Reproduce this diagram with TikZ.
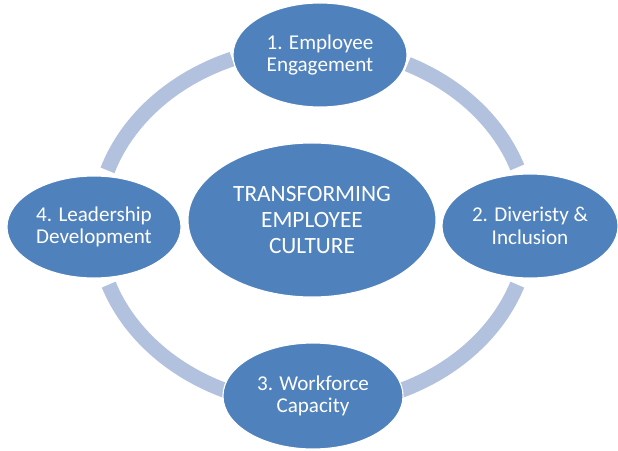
\documentclass[tikz,border=0pt]{standalone}
\usepackage{fontspec}
\setmainfont{Carlito}
\usetikzlibrary{shapes.geometric}

\definecolor{stageblue}{HTML}{4F81BD}
\definecolor{ringblue}{HTML}{B2C2DE}

\tikzset{
  stage/.style={shape=ellipse,fill=stageblue,draw=white,line width=0.8pt,
    text=white,align=center,inner sep=0pt,
    font=\fontsize{15}{16}\selectfont},
  ring/.style={draw=ringblue,line width=0.375cm}
}

\begin{document}
\begin{tikzpicture}[x=0.025cm,y=0.025cm]
            \useasboundingbox (0,0) rectangle (618,450);

            \coordinate (c) at (313,224);

            %the ring pieces between the stages
            \draw[ring] ([shift={(19:5.4cm and 4.5cm)}]c) arc[start angle=19,end angle=64,x radius=5.4cm,y radius=4.5cm];
            \draw[ring] ([shift={(-19:5.4cm and 4.5cm)}]c) arc[start angle=-19,end angle=-66,x radius=5.4cm,y radius=4.5cm];
            \draw[ring] ([shift={(199:5.4cm and 4.5cm)}]c) arc[start angle=199,end angle=246,x radius=5.4cm,y radius=4.5cm];
            \draw[ring] ([shift={(162:5.4cm and 4.5cm)}]c) arc[start angle=162,end angle=112,x radius=5.4cm,y radius=4.5cm];

            \node[stage,minimum width=4.35cm,minimum height=2.6cm] (engage) at (320,395) {1. Employee\\Engagement};
            \node[stage,minimum width=4.4cm,minimum height=2.6cm] (divers) at (530,224) {2. Diveristy \&\\Inclusion};
            \node[stage,minimum width=4.5cm,minimum height=2.65cm] (workf) at (313,54) {3. Workforce\\Capacity};
            \node[stage,minimum width=4.35cm,minimum height=2.55cm] (leader) at (94,223) {4. Leadership\\Development};

            %center
            \node[stage,minimum width=6.2cm,minimum height=3.85cm,
              font=\fontsize{16.6}{18.6}\selectfont] (culture) at (312,230) {TRANSFORMING\\EMPLOYEE\\CULTURE};

        \end{tikzpicture}
\end{document}
